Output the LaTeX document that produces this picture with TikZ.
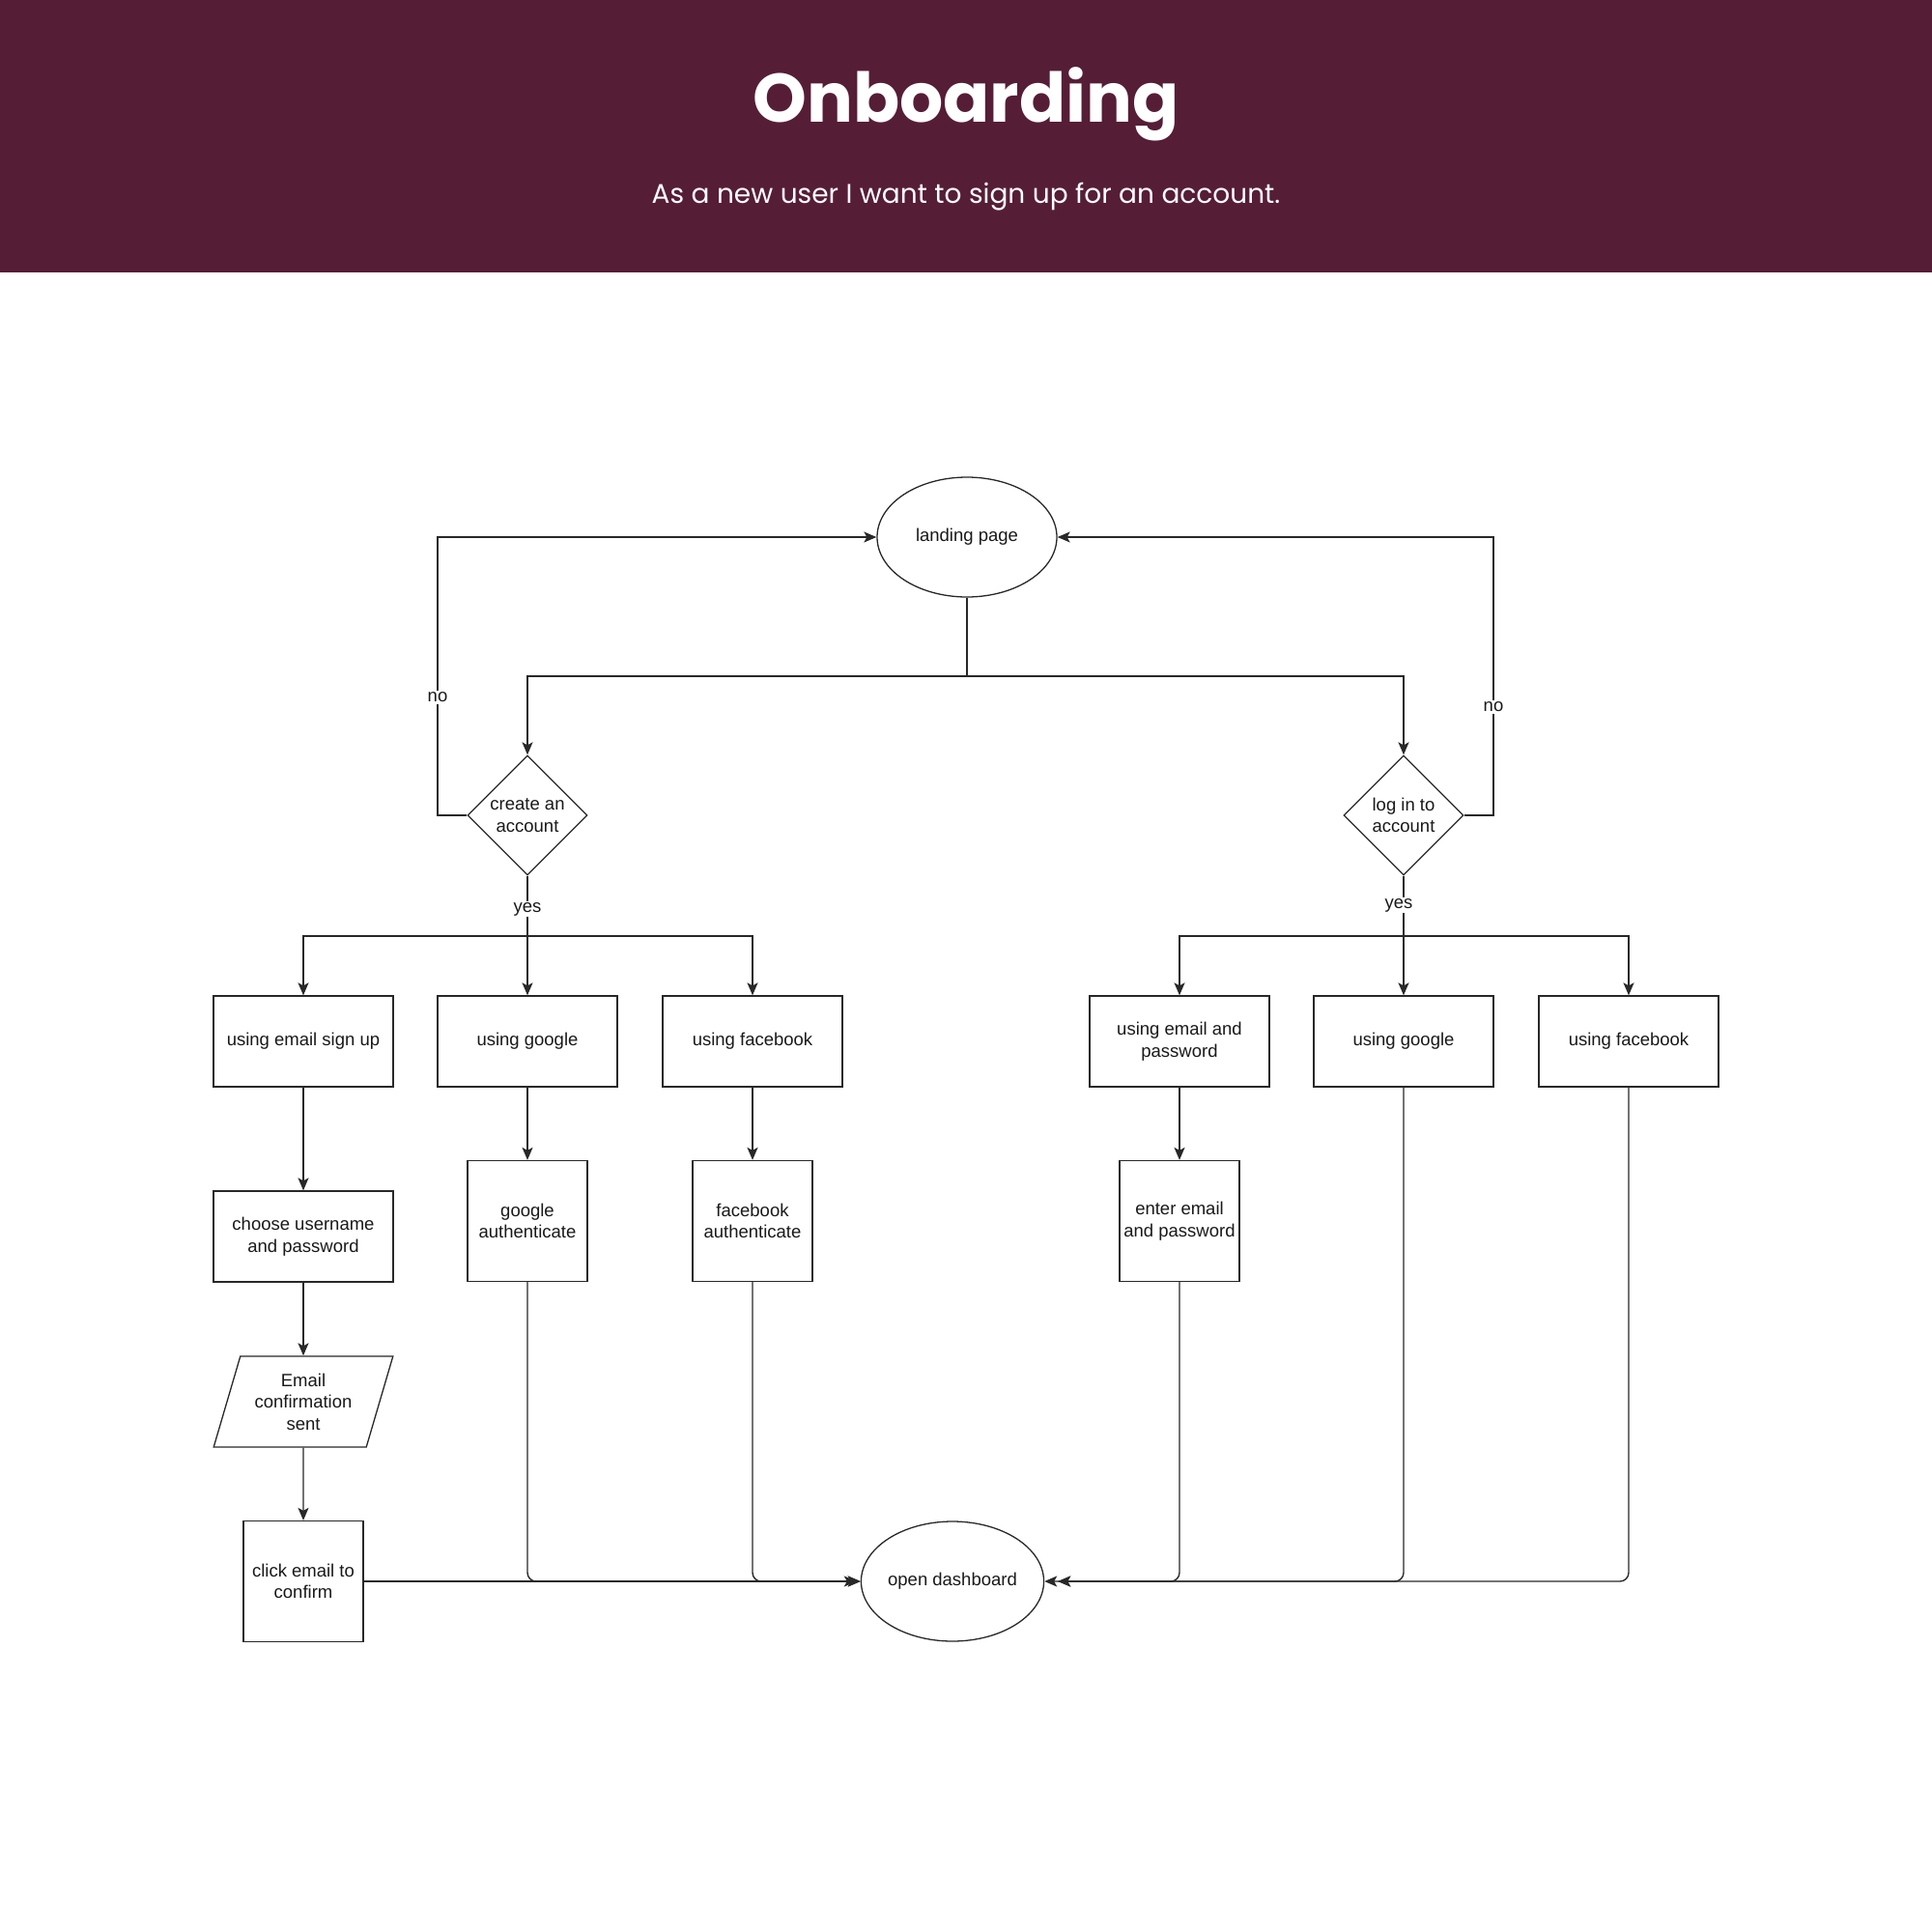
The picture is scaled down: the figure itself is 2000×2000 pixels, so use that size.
\documentclass[tikz,border=0pt]{standalone}
\usepackage{fontspec}
\setmainfont{Liberation Sans}
\newfontfamily\pop{Poppins}
\usetikzlibrary{shapes.geometric,arrows.meta}
\definecolor{hdr}{RGB}{86,29,54}
\definecolor{ln}{RGB}{40,40,40}
\tikzset{
  base/.style={draw=ln,line width=1.3pt,text=black!90,align=center,inner sep=0pt,
    font=\fontsize{18.5}{22.5}\selectfont},
  ell/.style={base,ellipse,minimum width=186pt,minimum height=124pt},
  dia/.style={base,diamond,minimum width=124pt,minimum height=124pt},
  boxw/.style={base,rectangle,minimum width=186pt,minimum height=94pt},
  boxs/.style={base,rectangle,minimum width=124pt,minimum height=125pt},
  para/.style={base,trapezium,trapezium left angle=70,trapezium right angle=110,
    trapezium stretches=true,minimum width=186pt,minimum height=94pt},
  con/.style={draw=ln,line width=1.4pt},
  arr/.style={con,-{Stealth[length=13pt,width=11pt,inset=3pt]}},
  lbl/.style={fill=white,inner sep=1.5pt,text=black!90,font=\fontsize{18.5}{22.5}\selectfont},
}
\begin{document}
\begin{tikzpicture}[x=1pt,y=-1pt]
\useasboundingbox (0,0) rectangle (2000,2000);
\fill[hdr] (0,0) rectangle (2000,282);
\node[text=white,font=\pop\bfseries\fontsize{71}{80}\selectfont,anchor=base] (title) at (1000,126) {Onboarding};
\node[text=white,font=\pop\fontsize{28}{32}\selectfont,anchor=base] (sub) at (1000,210) {As a new user I want to sign up for an account.};

% nodes
\node[ell] (land) at (1001,556) {landing page};
\node[dia] (create) at (546,844) {create an\\account};
\node[dia] (login) at (1453,844) {log in to\\account};

\node[boxw] (email) at (314,1078) {using email sign up};
\node[boxw] (gl) at (546,1078) {using google};
\node[boxw] (fb) at (779,1078) {using facebook};
\node[boxw] (remail) at (1221,1078) {using email and\\password};
\node[boxw] (rgl) at (1453,1078) {using google};
\node[boxw] (rfb) at (1686,1078) {using facebook};

\node[boxw] (choose) at (314,1280) {choose username\\and password};
\node[boxs] (glauth) at (546,1264) {google\\authenticate};
\node[boxs] (fbauth) at (779,1264) {facebook\\authenticate};
\node[boxs] (enter) at (1221,1264) {enter email\\and password};

\node[para] (conf) at (314,1451) {Email\\confirmation\\sent};
\node[boxs] (click) at (314,1637) {click email to\\confirm};
\node[ell] (dash) at (986,1637) {open dashboard};

% top split
\coordinate (bus) at (1001,700);
\draw[arr] (land.south) -- (bus) -| (create.north);
\draw[arr] (bus) -| (login.north);

% no loops
\draw[arr] (create.west) -- (453,844) |- (land.west);
\draw[arr] (login.east) -- (1546,844) |- (land.east);
\node[lbl] (nol) at (453,722) {no};
\node[lbl] (nor) at (1546,732) {no};

% yes branches
\coordinate (ybl) at (546,969);
\coordinate (ybr) at (1453,969);
\draw[con] (create.south) -- (ybl);
\draw[con] (login.south) -- (ybr);
\draw[arr] (ybl) -| (email.north);
\draw[arr] (ybl) -- (gl.north);
\draw[arr] (ybl) -| (fb.north);
\draw[arr] (ybr) -| (remail.north);
\draw[arr] (ybr) -- (rgl.north);
\draw[arr] (ybr) -| (rfb.north);
\node[lbl] (yesl) at (546,941) {yes};
\node[lbl] (yesr) at (1448,937) {yes};

% vertical chains
\draw[arr] (email) -- (choose);
\draw[arr] (choose) -- (conf);
\draw[arr] (conf) -- (click);
\draw[arr] (gl) -- (glauth);
\draw[arr] (fb) -- (fbauth);
\draw[arr] (remail) -- (enter);

% to dashboard
\coordinate (dl) at ([xshift=-4pt]dash.west);
\coordinate (dr) at ([xshift=14pt]dash.east);
\draw[arr] (click.east) -- (dash.west);
\draw[arr,rounded corners=9pt] (glauth.south) |- (dl);
\draw[arr,rounded corners=9pt] (fbauth.south) |- (dash.west);
\draw[arr,rounded corners=9pt] (enter.south) |- (dash.east);
\draw[arr,rounded corners=9pt] (rgl.south) |- (dr);
\draw[arr,rounded corners=9pt] (rfb.south) |- (dr);
\end{tikzpicture}
\end{document}
